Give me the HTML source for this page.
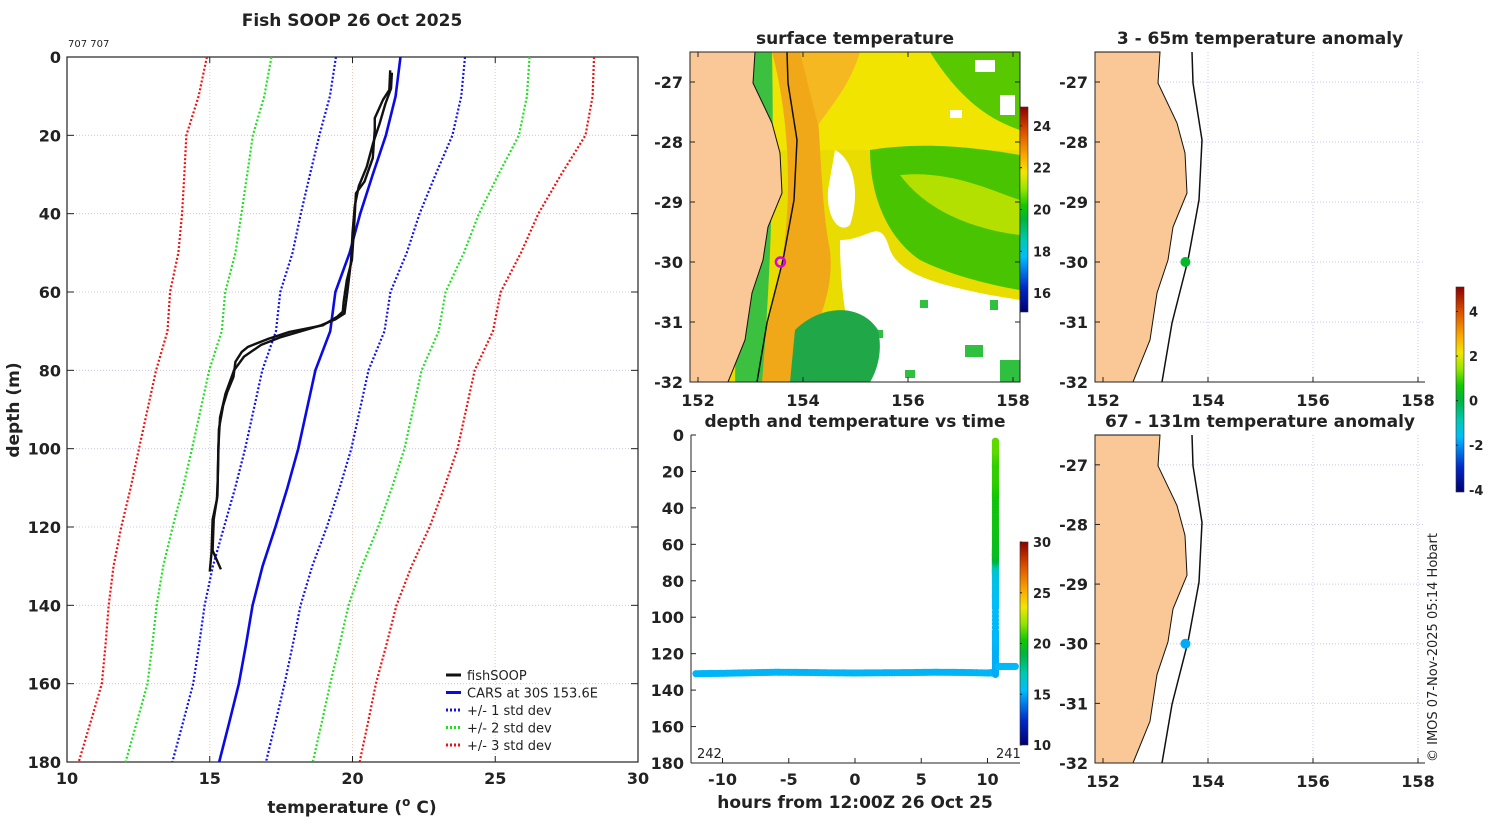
<!DOCTYPE html>
<html><head><meta charset="utf-8"><style>
html,body{margin:0;padding:0;background:#fff;}
svg text{font-family:"DejaVu Sans","Liberation Sans",sans-serif;fill:#222;}
.b{font-weight:bold;}
</style></head>
<body>
<svg id="fig" width="1500" height="820" xmlns="http://www.w3.org/2000/svg">
<defs>
<linearGradient id="jet" x1="0" y1="1" x2="0" y2="0">
<stop offset="0" stop-color="#000070"/><stop offset="0.12" stop-color="#0028c8"/><stop offset="0.22" stop-color="#008cf0"/><stop offset="0.27" stop-color="#00befa"/><stop offset="0.35" stop-color="#00c8b4"/><stop offset="0.45" stop-color="#00b43c"/><stop offset="0.52" stop-color="#14c800"/><stop offset="0.6" stop-color="#96e600"/><stop offset="0.68" stop-color="#f0e600"/><stop offset="0.76" stop-color="#faaa00"/><stop offset="0.88" stop-color="#dc5000"/><stop offset="1" stop-color="#8c0000"/>
</linearGradient>
<clipPath id="sstclip"><rect x="690" y="52" width="330" height="330"/></clipPath>
</defs>
<g id="profile"></g>
<g id="sst" clip-path="url(#sstclip)"></g>
<g id="sstaxes"></g>
<g id="anom1"></g>
<g id="anom2"></g>
<g id="timechart"></g>
<text x="0" y="0" transform="translate(1437,762) rotate(-90)" font-size="13">© IMOS 07-Nov-2025 05:14 Hobart</text>
</svg>
<script>
// ---- profile data ----
const carsDepth=[0,10,20,30,40,50,60,70,80,90,100,110,120,130,140,150,160,170,180];
const carsMean=[21.68,21.51,21.17,20.71,20.27,19.9,19.4,19.22,18.7,18.4,18.1,17.72,17.3,16.85,16.5,16.27,16.02,15.68,15.33];
const carsSd=[2.26,2.3,2.33,2.2,2.08,2.0,1.93,1.9,1.86,1.86,1.86,1.83,1.8,1.74,1.68,1.64,1.6,1.62,1.64];
const fishDepth=[3.4,8.4,10.9,15.6,18.6,25.8,31.8,34.8,44.2,51.8,57,62.5,65,66.3,68.5,70.2,71.9,74,75.3,77.8,81.7,85.6,89,95,107.9,113,118.1,126.7,131.4];
const fishTemp=[21.32,21.29,21.07,20.78,20.78,20.71,20.42,20.12,20.05,19.98,19.8,19.69,19.66,19.47,18.96,17.79,17.07,16.34,16.12,15.9,15.83,15.61,15.47,15.32,15.28,15.25,15.1,15.06,15.0];
const fishDepthUp=[130.8,126,118,112,100,92,86,80,76.5,73.5,71.5,70,68.5,67,65.5,60,52,45,38,33,28,22,17,12,8,4];
const fishTempUp=[15.39,15.1,15.14,15.27,15.3,15.36,15.55,15.85,16.2,16.8,17.5,18.2,18.9,19.4,19.72,19.82,19.95,20.0,20.08,20.22,20.5,20.72,20.95,21.15,21.35,21.38];
const xTicks=[10,15,20,25,30];
const yTicks=[0,20,40,60,80,100,120,140,160,180];
// ---- time chart data ----
const castHours=[-12,-10,-8,-6,-4,-2,0,2,4,6,8,10,10.5];
const castDepth=[131,130.8,130.5,130.2,130.3,130.5,130.6,130.5,130.4,130.2,130.3,130.6,130.5];
const castTemp=[15.2,15.2,15.2,15.2,15.2,15.2,15.2,15.2,15.2,15.2,15.2,15.2,15.2];
const castUpHour=10.6;
const stubHours=[10.8,11.4,12.1];
const stubDepth=[127,127,127.2];
const stubTemp=[15.3,15.3,15.3];
const hourTicks=[-10,-5,0,5,10];
const depthTicks2=[0,20,40,60,80,100,120,140,160,180];
// ---- map data ----
const latTicks=[-27,-28,-29,-30,-31,-32];
const lonTicks=[152,154,156,158];
const stationLon=153.57, stationLat=-30.0;
const anomShallow=0.2, anomDeep=-1.8;
const sstTicks=[16,18,20,22,24];
const anomTicks=[-4,-2,0,2,4];

const NS='http://www.w3.org/2000/svg';
function mk(tag,attrs,parent,txt){const e=document.createElementNS(NS,tag);for(const k in attrs)e.setAttribute(k,attrs[k]);if(txt!==undefined)e.textContent=txt;parent.appendChild(e);return e;}
function jet(v,lo,hi){
  const st=[[0,[0,0,112]],[0.12,[0,40,200]],[0.22,[0,140,240]],[0.27,[0,190,250]],[0.35,[0,200,180]],[0.45,[0,180,60]],[0.52,[20,200,0]],[0.6,[150,230,0]],[0.68,[240,230,0]],[0.76,[250,170,0]],[0.88,[220,80,0]],[1,[140,0,0]]];
  let t=Math.max(0,Math.min(1,(v-lo)/(hi-lo)));
  for(let i=1;i<st.length;i++){if(t<=st[i][0]){const a=st[i-1],b=st[i],f=(t-a[0])/(b[0]-a[0]);const c=a[1].map((x,j)=>Math.round(x+(b[1][j]-x)*f));return `rgb(${c})`;}}
  return 'rgb(140,0,0)';
}

// ===== profile chart =====
(function(){
const g=document.getElementById('profile');
const X0=67,X1=638,Y0=57,Y1=762;
const xT=t=>X0+(t-10)*(X1-X0)/20, yD=d=>Y0+d*(Y1-Y0)/180;
let t=mk('text',{x:352,y:26,'text-anchor':'middle','font-size':17,class:'b'},g,'Fish SOOP 26 Oct 2025');

t=mk('text',{x:68,y:47,'font-size':10},g,'707 707');

xTicks.forEach(v=>{
  if(v>10&&v<30){const l=mk('line',{x1:xT(v),x2:xT(v),y1:Y0,y2:Y1,stroke:'#e8c8b8','stroke-width':1,'stroke-dasharray':'1,2'},g);}
  mk('line',{x1:xT(v),x2:xT(v),y1:Y1,y2:Y1-6,stroke:'#222'},g);mk('line',{x1:xT(v),x2:xT(v),y1:Y0,y2:Y0+6,stroke:'#222'},g);
  const tx=mk('text',{x:xT(v),y:784,'text-anchor':'middle','font-size':16,class:'b'},g,v);
  
});
yTicks.forEach(v=>{
  if(v>0&&v<180){const l=mk('line',{x1:X0,x2:X1,y1:yD(v),y2:yD(v),stroke:'#c8c8e8','stroke-width':1,'stroke-dasharray':'1,2'},g);}
  mk('line',{x1:X0,x2:X0+7,y1:yD(v),y2:yD(v),stroke:'#222'},g);mk('line',{x1:X1,x2:X1-7,y1:yD(v),y2:yD(v),stroke:'#222'},g);
  const tx=mk('text',{x:61,y:yD(v)+6,'text-anchor':'end','font-size':16,class:'b'},g,v);
  
});
const fr=mk('rect',{x:X0,y:Y0,width:X1-X0,height:Y1-Y0,fill:'none',stroke:'#222','stroke-width':1.2},g);

t=mk('text',{x:352,y:813,'text-anchor':'middle','font-size':17,class:'b'},g,'');
t.innerHTML='temperature (<tspan dy="-7" font-size="12">o</tspan><tspan dy="7"> C)</tspan>';

t=mk('text',{x:0,y:0,transform:'translate(19,410) rotate(-90)','text-anchor':'middle','font-size':17,class:'b'},g,'depth (m)');

const line=(ts,ds,col,w,dash,name)=>{const p=mk('polyline',{points:ts.map((v,i)=>xT(v)+','+yD(ds[i])).join(' '),fill:'none',stroke:col,'stroke-width':w,'stroke-linejoin':'round'},g);if(dash)p.setAttribute('stroke-dasharray',dash);return p;};
[[3,'#f01010','red'],[2,'#20e020','green'],[1,'#1010f0','blue']].forEach(([k,c,n])=>{
  line(carsMean.map((m,i)=>m-k*carsSd[i]),carsDepth,c,2.2,'2,2','minus-'+k+'-std-line');
  line(carsMean.map((m,i)=>m+k*carsSd[i]),carsDepth,c,2.2,'2,2','plus-'+k+'-std-line');
});
line(carsMean,carsDepth,'#0a0ae8',2.6,null,'cars-mean-line');
line(fishTemp,fishDepth,'#111',2.4,null,'fishsoop-downcast-line');
line(fishTempUp,fishDepthUp,'#111',2.4,null,'fishsoop-upcast-line');
const leg=[['fishSOOP','#111',null],['CARS at 30S 153.6E','#0a0ae8',null],['+/- 1 std dev','#1010f0','2,2'],['+/- 2 std dev','#20e020','2,2'],['+/- 3 std dev','#f01010','2,2']];
leg.forEach((L,i)=>{const y=675+i*17.5;const lg=mk('g',{},g);
  const l=mk('line',{x1:446,x2:461,y1:y,y2:y,stroke:L[1],'stroke-width':3},lg);if(L[2])l.setAttribute('stroke-dasharray',L[2]);
  mk('text',{x:467,y:y+5,'font-size':13},lg,L[0]);});
})();

// ===== coast geometry (pixel offsets relative to map left) =====
const coastPts=[[65,52],[63,83],[82,123],[90,153],[92,193],[78,227],[73,260],[62,293],[55,340],[38,382]];
const isoPts=[[97,52],[98,83],[107,140],[104,200],[93,260],[77,323],[67,382]];
function proj(X0,Y0,Y1){return {lonX:lon=>X0+8+(lon-152)*52.5, latY:lat=>Y0+(-26.5-lat)*(Y1-Y0)/5.5};}
function drawMap(g,X0,Y0,Y1,isSST){
  const P=proj(X0,Y0,Y1);
  const sy=(Y1-Y0)/330, ty=y=>Y0+(y-52)*sy;
  if(isSST){
    const sst=[['#e8dc00','M690,52 H1020 V382 H690Z'],
      ['#f0e400','M760,52 H1020 V150 H760Z'],
      ['#58c800','M930,52 H1020 V130 C990,120 960,100 930,52Z'],
      ['#ffffff','M975,60 h20 v12 h-20z M1000,95 h15 v20 h-15z M950,110 h12 v8 h-12z'],
      ['#48c400','M870,150 C930,140 990,150 1020,155 V290 C990,285 950,275 920,260 C890,240 870,200 870,150Z'],
      ['#b4e000','M900,175 C950,170 990,190 1020,200 V235 C980,230 930,215 900,175Z'],
      ['#ffffff','M840,240 C870,240 880,215 890,250 C900,275 940,285 990,295 L1020,300 V382 H860 C850,340 840,300 840,240Z'],
      ['#ffffff','M835,150 C855,160 860,195 850,225 C838,235 826,215 828,190Z'],
      ['#30c040','M875,330 h8 v8 h-8z M920,300 h8 v8 h-8z M965,345 h18 v12 h-18z M1000,360 h20 v22 h-20z M905,370 h10 v8 h-10z M990,300 h8 v10 h-8z'],
      ['#f0a818','M772,52 C790,120 792,200 782,260 C770,320 762,350 752,382 H795 C812,330 835,300 830,250 C820,200 822,140 812,52Z'],
      ['#f5b820','M800,52 H860 C850,85 832,105 818,125 Z'],
      ['#20a848','M795,330 C820,305 860,302 878,330 C885,360 870,382 870,382 H790 Z'],
      ['#3cc040','M740,52 H772 C774,150 772,260 762,382 H735Z']];
    sst.forEach(s=>{const p=mk('path',{d:s[1],fill:s[0]},g);});
  } else {
    latTicks.forEach(lat=>{if(lat>-32){const l=mk('line',{x1:X0,x2:X0+330,y1:P.latY(lat),y2:P.latY(lat),stroke:'#c8c8f0','stroke-dasharray':'1,2'},g);}});
    lonTicks.forEach(lon=>{if(lon>152){const l=mk('line',{x1:P.lonX(lon),x2:P.lonX(lon),y1:Y0,y2:Y1,stroke:'#c8c8f0','stroke-dasharray':'1,2'},g);}});
  }
  const land=mk('path',{d:'M'+X0+','+Y0+' '+coastPts.map(p=>'L'+(X0+p[0])+','+ty(p[1])).join(' ')+' L'+X0+','+Y1+'Z',fill:'#f9c896',stroke:'#111','stroke-width':1},g);
  
  const iso=mk('polyline',{points:isoPts.map(p=>(X0+p[0])+','+ty(p[1])).join(' '),fill:'none',stroke:'#111','stroke-width':1.5},g);
  
  return P;
}
function mapAxes(g,X0,Y0,Y1,box,title){
  const P=proj(X0,Y0,Y1);
  mk('line',{x1:X0,x2:X0,y1:Y0,y2:Y1,stroke:'#222'},g);mk('line',{x1:X0,x2:X0+330,y1:Y1,y2:Y1,stroke:'#222'},g);
  if(box){mk('rect',{x:X0,y:Y0,width:330,height:Y1-Y0,fill:'none',stroke:'#222'},g);}
  latTicks.forEach(lat=>{mk('line',{x1:X0,x2:X0+5,y1:P.latY(lat),y2:P.latY(lat),stroke:'#222'},g);if(box)mk('line',{x1:X0+330,x2:X0+325,y1:P.latY(lat),y2:P.latY(lat),stroke:'#222'},g);
    const tx=mk('text',{x:X0-7,y:P.latY(lat)+6,'text-anchor':'end','font-size':16,class:'b'},g,lat);});
  lonTicks.forEach(lon=>{mk('line',{x1:P.lonX(lon),x2:P.lonX(lon),y1:Y1,y2:Y1-5,stroke:'#222'},g);if(box)mk('line',{x1:P.lonX(lon),x2:P.lonX(lon),y1:Y0,y2:Y0+5,stroke:'#222'},g);
    const tx=mk('text',{x:P.lonX(lon),y:Y1+24,'text-anchor':'middle','font-size':16,class:'b'},g,lon);});
  const tt=mk('text',{x:X0+165,y:Y0-8,'text-anchor':'middle','font-size':17,class:'b'},g,title);
}
function colorbar(g,x,y0,y1,lo,hi,ticks,name){
  const r=mk('rect',{x:x,y:y0,width:8,height:y1-y0,fill:'url(#jet)'},g);
  mk('rect',{x:x,y:y0,width:8,height:y1-y0,fill:'none',stroke:'#333','stroke-width':0.6},g);
  ticks.forEach(v=>{const y=y1-(v-lo)/(hi-lo)*(y1-y0);mk('line',{x1:x,x2:x+2,y1:y,y2:y,stroke:'#222'},g);
    const tx=mk('text',{x:x+13,y:y+5,'font-size':13,class:'b'},g,v);});
}
// SST map
(function(){
  const g=document.getElementById('sst');
  const m=drawMap(g,690,52,382,true);
  const ax=document.getElementById('sstaxes');
  mapAxes(ax,690,52,382,true,'surface temperature');
  const c=mk('circle',{cx:m.lonX(stationLon),cy:m.latY(stationLat),r:4.5,fill:'none',stroke:'#e000e0','stroke-width':2.5},ax);
  
  colorbar(ax,1020,107,312,15.1,24.9,sstTicks,'sst-colorbar');
})();
// anomaly maps
(function(){
  const g1=document.getElementById('anom1');
  const m1=drawMap(g1,1095,52,382,false);
  mapAxes(g1,1095,52,382,false,'3 - 65m temperature anomaly');
  let c=mk('circle',{cx:m1.lonX(stationLon),cy:m1.latY(stationLat),r:5,fill:jet(anomShallow,-4.1,5.1)},g1);
  
  colorbar(g1,1456,287,492,-4.1,5.1,anomTicks,'anomaly-colorbar');
  const g2=document.getElementById('anom2');
  const m2=drawMap(g2,1095,435,763,false);
  mapAxes(g2,1095,435,763,false,'67 - 131m temperature anomaly');
  c=mk('circle',{cx:m2.lonX(stationLon),cy:m2.latY(stationLat),r:5,fill:jet(anomDeep,-4.1,5.1)},g2);
  
})();
// time chart
(function(){
  const g=document.getElementById('timechart');
  const X0=691,X1=1020,Y0=435,Y1=763;
  const xH=h=>855+h*13.25, yD=d=>Y0+d*(Y1-Y0)/180;
  mk('line',{x1:X0,x2:X0,y1:Y0,y2:Y1,stroke:'#222'},g);mk('line',{x1:X0,x2:X1,y1:Y1,y2:Y1,stroke:'#222'},g);
  hourTicks.forEach(h=>{mk('line',{x1:xH(h),x2:xH(h),y1:Y1,y2:Y1-5,stroke:'#222'},g);
    const tx=mk('text',{x:xH(h),y:785,'text-anchor':'middle','font-size':16,class:'b'},g,h);});
  depthTicks2.forEach(d=>{mk('line',{x1:X0,x2:X0+5,y1:yD(d),y2:yD(d),stroke:'#222'},g);
    const tx=mk('text',{x:684,y:yD(d)+6,'text-anchor':'end','font-size':16,class:'b'},g,d);});
  let t=mk('text',{x:855,y:427,'text-anchor':'middle','font-size':17,class:'b'},g,'depth and temperature vs time');
  t=mk('text',{x:855,y:808,'text-anchor':'middle','font-size':17,class:'b'},g,'hours from 12:00Z 26 Oct 25');
  t=mk('text',{x:697,y:758,'font-size':13},g,'242');
  t=mk('text',{x:996,y:758,'font-size':13},g,'241');
  const pt=(h,d,v)=>{const c=mk('circle',{cx:xH(h),cy:yD(d),r:3.6,fill:jet(v,10,30)},g);};
  for(let i=0;i<castHours.length-1;i++){for(let k=0;k<10;k++){const f=k/10;pt(castHours[i]+(castHours[i+1]-castHours[i])*f,castDepth[i]+(castDepth[i+1]-castDepth[i])*f,castTemp[i]);}}
  for(let i=fishDepth.length-1;i>0;i--){for(let k=0;k<6;k++){const f=k/6;pt(castUpHour,fishDepth[i]+(fishDepth[i-1]-fishDepth[i])*f,fishTemp[i]+(fishTemp[i-1]-fishTemp[i])*f);}}
  pt(castUpHour,fishDepth[0],fishTemp[0]);
  for(let i=0;i<stubHours.length-1;i++){for(let k=0;k<=6;k++){const f=k/6;pt(stubHours[i]+(stubHours[i+1]-stubHours[i])*f,stubDepth[i],stubTemp[i]);}}
  colorbar(g,1020,542,745,10,30,[10,15,20,25,30],'time-colorbar');
})();
</script>
</body></html>
